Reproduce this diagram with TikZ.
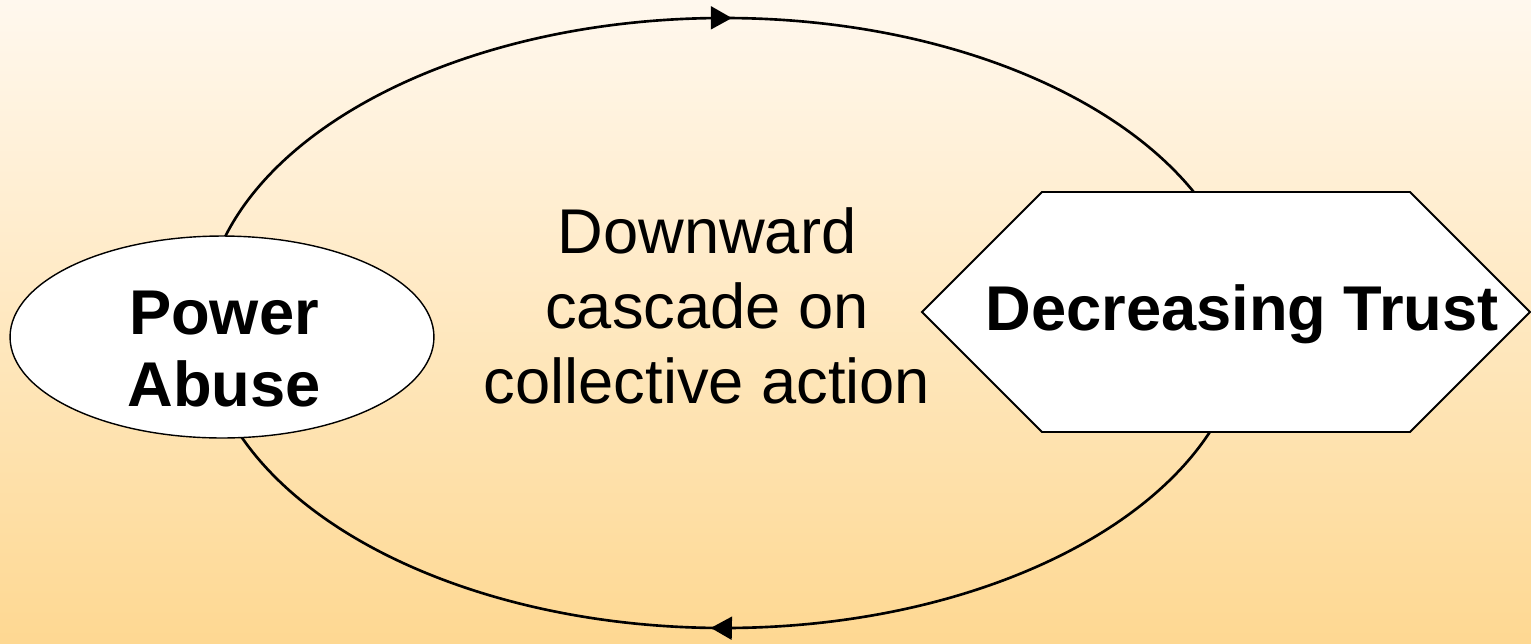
\documentclass[tikz,border=0pt]{standalone}
\usepackage{fontspec}
\setmainfont{Liberation Sans}
\usetikzlibrary{shapes.geometric,shapes.symbols,arrows.meta,decorations.markings}
\definecolor{bgtop}{RGB}{255,248,238}
\definecolor{bgbottom}{RGB}{254,216,146}
\tikzset{
  bigtext/.style={font=\fontsize{36}{42.5}\selectfont, align=center},
  boldtext/.style={font=\fontsize{36}{41.5}\selectfont\bfseries, align=center},
  abusebox/.style={ellipse, draw, fill=white, line width=0.8pt, inner sep=0pt,
    minimum width=8.48cm, minimum height=4.04cm},
  trustbox/.style={signal, signal to=west and east, signal pointer angle=90,
    draw, fill=white, line width=1.1pt, inner sep=0pt,
    minimum width=12.16cm, minimum height=4.8cm},
  loopline/.style={line width=1.5pt, decoration={markings,
    mark=at position 0.255 with {\arrow{Triangle[length=12pt,width=13pt]}},
    mark=at position 0.753 with {\arrow{Triangle[length=12pt,width=13pt]}}},
    postaction={decorate}}
}
\begin{document}
\begin{tikzpicture}[x=0.02cm, y=-0.02cm]
  \useasboundingbox (0,0) rectangle (1531,643);
  \fill[top color=bgtop, bottom color=bgbottom] (0,0) rectangle (1531,643);

  % the cycle
  \coordinate (cycle) at (724,323);
  \draw[loopline] (cycle) ellipse [x radius=520, y radius=305];

  \node (cascade) [bigtext] at (707,306) {Downward\\cascade on\\collective action};

  \node (abuse) [abusebox] at (222,337) {};
  \node (abusetext) [boldtext] at (224,349) {Power\\Abuse};
  \node (trust) [trustbox] at (1226,312) {};
  \node (trusttext) [boldtext] at (1242,314) {Decreasing Trust};
\end{tikzpicture}
\end{document}
